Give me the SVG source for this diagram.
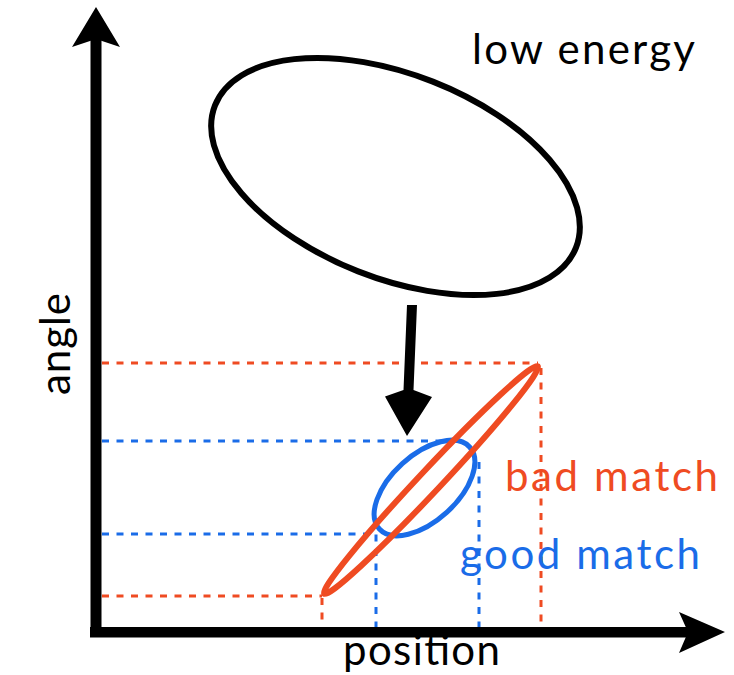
<svg xmlns="http://www.w3.org/2000/svg" width="734" height="675" viewBox="0 0 734 675">
<style>
.lbl{font-family:Lato,"Open Sans","Liberation Sans",sans-serif;font-size:42px}
.red{fill:#ef4b22}
.blue{fill:#1a6ce8}
.dr{stroke:#ef4b22;stroke-width:3;stroke-dasharray:7 7.5;fill:none}
.db{stroke:#1a6ce8;stroke-width:3;stroke-dasharray:7 7.5;fill:none}
</style>
<rect width="734" height="675" fill="#fff"/>
<g id="guides">
<line class="dr" x1="102" y1="363" x2="538" y2="363"/>
<line class="dr" x1="102" y1="596" x2="322" y2="596"/>
<line class="dr" x1="541" y1="368" x2="541" y2="627"/>
<line class="dr" x1="322" y1="598" x2="322" y2="627"/>
<line class="db" x1="102" y1="441" x2="447" y2="441"/>
<line class="db" x1="102" y1="534" x2="375" y2="534"/>
<line class="db" x1="376" y1="520" x2="376" y2="627"/>
<line class="db" x1="479" y1="462" x2="479" y2="627"/>
</g>
<g id="axes">
<rect x="90.5" y="38" width="11" height="599"/>
<path d="M96,7 L120,47 L96,39 L72,47 Z"/>
<rect x="90" y="627" width="600" height="10.5"/>
<path d="M725,632 L679,653 L688,632 L679,612 Z"/>
</g>
<g id="low-energy">
<ellipse cx="395.5" cy="176.5" rx="194" ry="102" transform="rotate(21.5 395.5 176.5)" fill="none" stroke="#000" stroke-width="6"/>
</g>
<g id="good-match">
<ellipse cx="424.5" cy="488" rx="61" ry="33" transform="rotate(-42.3 424.5 488)" fill="none" stroke="#1a6ce8" stroke-width="5"/>
</g>
<g id="bad-match">
<ellipse cx="431" cy="480" rx="156" ry="11" transform="rotate(-46.8 431 480)" fill="none" stroke="#ef4b22" stroke-width="6"/>
</g>
<g id="connectors">
<path d="M407,305 L417,305 L413.5,390 L432,397 L407,436 L385,396.5 L403.5,390 Z"/>
</g>
<g id="labels">
<text class="lbl" x="472" y="64" textLength="223" lengthAdjust="spacing">low energy</text>
<text class="lbl" transform="translate(70 395) rotate(-90)" textLength="102" lengthAdjust="spacing">angle</text>
<text class="lbl" x="343" y="665" textLength="157" lengthAdjust="spacing">position</text>
<text class="lbl red" x="505" y="491" textLength="213" lengthAdjust="spacing">bad match</text>
<text class="lbl blue" x="460" y="569" textLength="240" lengthAdjust="spacing">good match</text>
</g>
</svg>
